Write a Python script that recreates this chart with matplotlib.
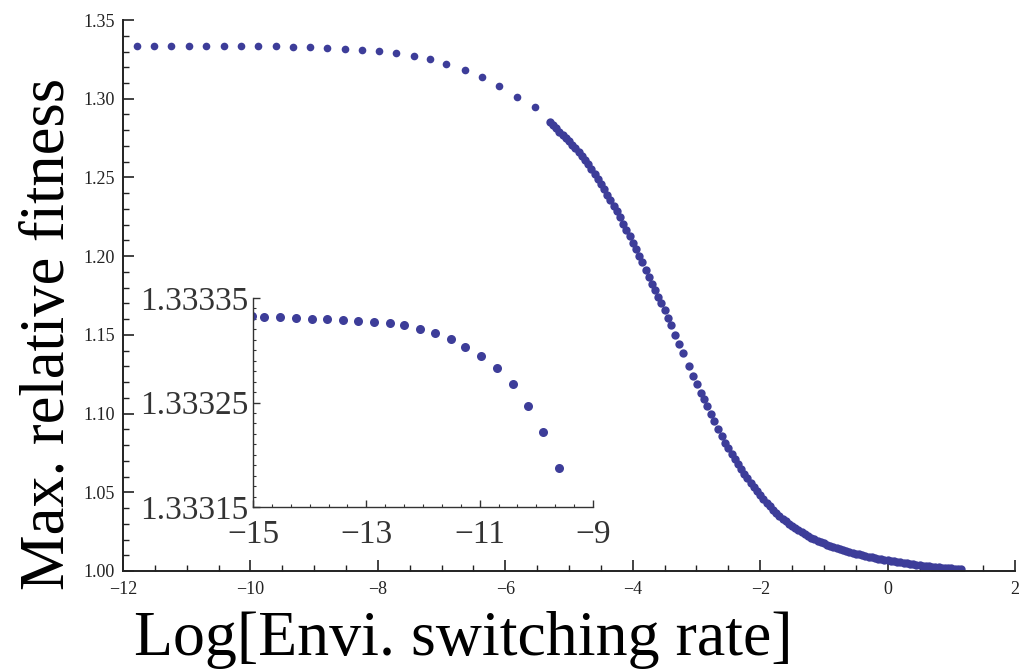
import matplotlib.pyplot as plt
from matplotlib.ticker import MultipleLocator, FormatStrFormatter

# sparse points on the plateau (log switching rate, max relative fitness)
flat_x = [-11.78, -11.51, -11.25, -10.97, -10.70, -10.42, -10.15, -9.88, -9.60,
          -9.33, -9.06, -8.80, -8.51, -8.25, -7.98, -7.71, -7.43, -7.18, -6.93,
          -6.63, -6.36, -6.10, -5.81, -5.53]
flat_y = [1.33332, 1.33331, 1.33330, 1.33329, 1.33328, 1.33327, 1.33325, 1.33322, 1.33319,
          1.3330, 1.3328, 1.3324, 1.3319, 1.3312, 1.3303, 1.3290, 1.3273, 1.3250, 1.3222,
          1.3183, 1.3137, 1.3078, 1.3012, 1.2945]

# dense sampling along the drop
drop_x = [-5.30, -5.25, -5.20, -5.15, -5.10, -5.05, -5.00, -4.95, -4.90, -4.85,
          -4.80, -4.75, -4.70, -4.65, -4.60, -4.55, -4.50, -4.45, -4.40, -4.35,
          -4.30, -4.25, -4.20, -4.15, -4.10, -4.05, -4.00, -3.95, -3.90, -3.85,
          -3.80, -3.75, -3.70, -3.65, -3.60, -3.55, -3.50, -3.45, -3.40,
          -3.33, -3.27, -3.21, -3.12, -3.05, -2.99, -2.93, -2.88, -2.83, -2.77,
          -2.72, -2.66, -2.60,
          -2.55, -2.50, -2.45, -2.40, -2.35, -2.30, -2.25, -2.20, -2.15, -2.10,
          -2.05, -2.00, -1.95, -1.90, -1.85, -1.80, -1.75, -1.70, -1.65, -1.60,
          -1.55, -1.50, -1.45, -1.40, -1.35, -1.30, -1.25, -1.20, -1.15, -1.10,
          -1.05, -1.00, -0.95, -0.90, -0.85, -0.80, -0.75, -0.70, -0.65, -0.60,
          -0.55, -0.50, -0.45, -0.40, -0.35, -0.30, -0.25, -0.20, -0.15, -0.10,
          -0.05, 0.00, 0.05, 0.10, 0.15, 0.20, 0.25, 0.30, 0.35, 0.40,
          0.45, 0.50, 0.55, 0.60, 0.65, 0.70, 0.75, 0.80, 0.85, 0.90,
          0.95, 1.00, 1.05, 1.10, 1.15]
drop_y = [1.2852, 1.2832, 1.2811, 1.2791, 1.2771, 1.2751, 1.2731, 1.2708, 1.2684, 1.2660,
          1.2636, 1.2612, 1.2586, 1.2554, 1.2522, 1.2490, 1.2458, 1.2426, 1.2391, 1.2356,
          1.2320, 1.2285, 1.2246, 1.2206, 1.2165, 1.2125, 1.2084, 1.2044, 1.2004, 1.1961,
          1.1914, 1.1867, 1.1822, 1.1782, 1.1742, 1.1701, 1.1655, 1.1609, 1.1563,
          1.1500, 1.1440, 1.1385, 1.1300, 1.1240, 1.1185, 1.1130, 1.1090, 1.1045, 1.0995,
          1.0955, 1.0905, 1.0855,
          1.0815, 1.0780, 1.0746, 1.0712, 1.0680, 1.0648, 1.0618, 1.0588, 1.0560, 1.0532,
          1.0506, 1.0480, 1.0456, 1.0432, 1.0410, 1.0389, 1.0369, 1.0350, 1.0332, 1.0315,
          1.0299, 1.0284, 1.0271, 1.0258, 1.0246, 1.0234, 1.0223, 1.0212, 1.0202, 1.0193,
          1.0184, 1.0176, 1.0168, 1.0161, 1.0154, 1.0147, 1.0140, 1.0134, 1.0128, 1.0122,
          1.0116, 1.0111, 1.0106, 1.0101, 1.0096, 1.0092, 1.0087, 1.0083, 1.0079, 1.0075,
          1.0071, 1.0068, 1.0064, 1.0061, 1.0057, 1.0054, 1.0051, 1.0048, 1.0045, 1.0042,
          1.0040, 1.0037, 1.0034, 1.0032, 1.0030, 1.0028, 1.0026, 1.0024, 1.0022, 1.0020,
          1.0018, 1.0017, 1.0015, 1.0014, 1.0013]

# inset: very low switching rates
inset_x = [-15.02, -14.80, -14.52, -14.25, -13.96, -13.69, -13.41, -13.14, -12.87, -12.59,
           -12.33, -12.05, -11.78, -11.51, -11.25, -10.97, -10.70, -10.42, -10.15, -9.88,
           -9.60]
inset_y = [1.3333325, 1.3333320, 1.3333318, 1.3333310, 1.3333302, 1.3333300, 1.3333292,
           1.3333283, 1.3333273, 1.3333264, 1.3333242, 1.3333201, 1.3333162, 1.3333105,
           1.3333034, 1.3332948, 1.3332827, 1.3332677, 1.3332467, 1.3332221, 1.3331870]

dot_color = '#3d3d99'
plt.rcParams['font.family'] = ['Liberation Serif', 'DejaVu Serif']
plt.rcParams['axes.unicode_minus'] = True

fig = plt.figure(figsize=(10.21, 6.72), dpi=100)
ax = fig.add_axes([0.1205, 0.1503, 0.8737, 0.8199])

ax.plot(flat_x, flat_y, 'o', color=dot_color, markersize=5.5, markeredgewidth=0)
ax.plot(drop_x, drop_y, 'o', color=dot_color, markersize=6, markeredgewidth=0)

ax.set_xlim(-12, 2)
ax.set_ylim(1.00, 1.35)
ax.spines['top'].set_visible(False)
ax.spines['right'].set_visible(False)
for s in ['left', 'bottom']:
    ax.spines[s].set_linewidth(1.4)
    ax.spines[s].set_color('#222222')

ax.xaxis.set_major_locator(MultipleLocator(2))
ax.xaxis.set_minor_locator(MultipleLocator(0.5))
ax.yaxis.set_major_locator(MultipleLocator(0.05))
ax.yaxis.set_minor_locator(MultipleLocator(0.01))
ax.yaxis.set_major_formatter(FormatStrFormatter('%.2f'))
ax.tick_params(which='major', direction='in', length=8, width=1.2, labelsize=13,
               colors='#222222')
ax.tick_params(which='minor', direction='in', length=4, width=1.0, colors='#222222')
ax.tick_params(axis='y', pad=6)
ax.tick_params(axis='x', pad=7)

ax.set_xlabel('Log[Envi. switching rate]', fontsize=46)
ax.xaxis.set_label_coords(0.381, -0.073)
ax.set_ylabel('Max. relative fitness', fontsize=45)
ax.yaxis.set_label_coords(-0.05, 0.43)

# inset
ins = fig.add_axes([0.2478, 0.2455, 0.333, 0.311])
ins.plot(inset_x, inset_y, 'o', color=dot_color, markersize=6.5, markeredgewidth=0)
ins.set_xlim(-15, -9)
ins.set_ylim(1.33315, 1.33335)
ins.patch.set_alpha(0)
ins.spines['top'].set_visible(False)
ins.spines['right'].set_visible(False)
for s in ['left', 'bottom']:
    ins.spines[s].set_linewidth(1.0)
    ins.spines[s].set_color('#333333')
ins.set_xticks([-15, -13, -11, -9])
ins.xaxis.set_minor_locator(MultipleLocator(1 / 3))
ins.set_yticks([1.33315, 1.33325, 1.33335])
ins.yaxis.set_minor_locator(MultipleLocator(0.00001))
ins.yaxis.set_major_formatter(FormatStrFormatter('%.5f'))
ins.tick_params(which='major', direction='in', length=5, width=1.0, labelsize=24,
                colors='#333333')
ins.tick_params(which='minor', direction='in', length=2.5, width=0.8, colors='#333333')
ins.tick_params(axis='y', pad=3)
ins.tick_params(axis='x', pad=9)

fig.savefig('out.png', dpi=100)
